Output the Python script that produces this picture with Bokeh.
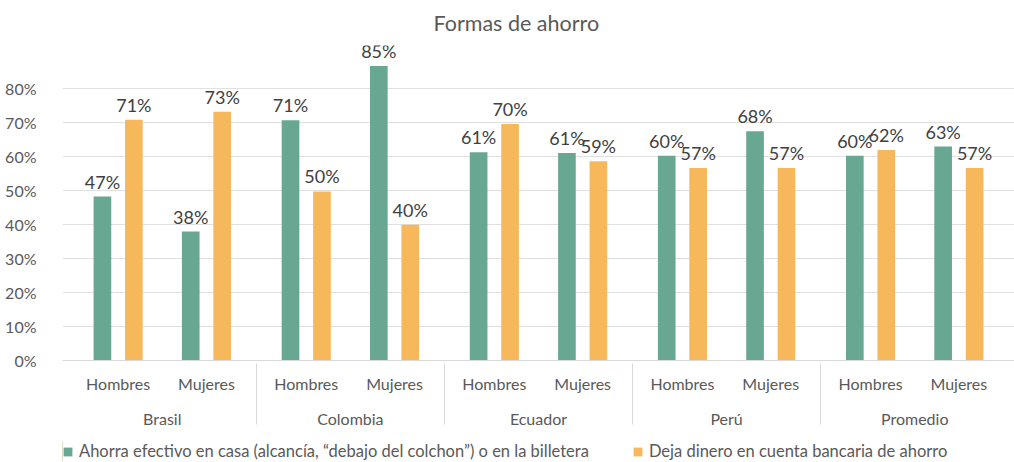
from bokeh.plotting import figure
from bokeh.layouts import column
from bokeh.models import (ColumnDataSource, FactorRange, Legend, LegendItem, PrintfTickFormatter,
                          FixedTicker, Range1d)
from bokeh.transform import dodge
from bokeh.core.properties import value
from bokeh.embed import file_html
from bokeh.resources import INLINE

title_text = "Formas de ahorro"
countries = ["Brasil", "Colombia", "Ecuador", "Perú", "Promedio"]
genders = ["Hombres", "Mujeres"]
series_names = ["Ahorra efectivo en casa (alcancía, “debajo del colchon”) o en la billetera",
                "Deja dinero en cuenta bancaria de ahorro"]
efectivo = [48.2, 37.9, 70.6, 86.6, 61.2, 61.0, 60.2, 67.4, 60.2, 62.9]
banco = [70.8, 73.1, 49.7, 39.9, 69.5, 58.6, 56.6, 56.6, 61.9, 56.6]
efectivo_labels = ["47%", "38%", "71%", "85%", "61%", "61%", "60%", "68%", "60%", "63%"]
banco_labels = ["71%", "73%", "50%", "40%", "70%", "59%", "57%", "57%", "62%", "57%"]
y_ticks = [0, 10, 20, 30, 40, 50, 60, 70, 80]

FONT = "Lato"
GREEN = "#68a893"
ORANGE = "#f7b85b"
TXT = "#595959"

x = [(c, g) for c in countries for g in genders]
src = ColumnDataSource(dict(x=x, ef=efectivo, bn=banco, efl=efectivo_labels, bnl=banco_labels))

xr = FactorRange(*x, factor_padding=0.0, group_padding=0.13, range_padding=0.13,
                 range_padding_units="absolute")
p = figure(x_range=xr, y_range=(0, 92.6), frame_width=952, frame_height=315,
           output_backend="svg", toolbar_location=None,
           min_border_left=62, min_border_right=0, min_border_top=45, min_border_bottom=81)

off = 0.178
w = 0.2
p.vbar(x=dodge("x", -off, range=p.x_range), top="ef", width=w, source=src,
       fill_color=GREEN, line_color=None)
p.vbar(x=dodge("x", off, range=p.x_range), top="bn", width=w, source=src,
       fill_color=ORANGE, line_color=None)
p.text(x=dodge("x", -off, range=p.x_range), y="ef", text="efl", source=src,
       text_align="center", text_baseline="bottom", y_offset=-4,
       text_font=value(FONT), text_font_size="18px", text_color="#404040")
p.text(x=dodge("x", off, range=p.x_range), y="bn", text="bnl", source=src,
       text_align="center", text_baseline="bottom", y_offset=-4,
       text_font=value(FONT), text_font_size="18px", text_color="#404040")

p.title.text = title_text
p.title.align = "left"
p.title.offset = 371
p.title.vertical_align = "top"
p.title.text_font = FONT
p.title.text_font_size = "21.5px"
p.title.text_font_style = "normal"
p.title.text_color = TXT
p.title.standoff = 16

p.outline_line_color = None
p.xgrid.grid_line_color = None
p.ygrid.grid_line_color = "#e0e0e0"
p.ygrid.grid_line_width = 1

p.yaxis.ticker = FixedTicker(ticks=y_ticks)
p.yaxis.formatter = PrintfTickFormatter(format="%d%%")
p.yaxis.axis_line_color = None
p.yaxis.major_tick_line_color = None
p.yaxis.minor_tick_line_color = None
p.yaxis.major_label_text_font = FONT
p.yaxis.major_label_text_font_size = "16px"
p.yaxis.major_label_text_color = TXT
p.yaxis.major_label_standoff = 20

p.xaxis.axis_line_color = "#d9d9d9"
p.xaxis.major_tick_line_color = None
p.xaxis.minor_tick_line_color = None
p.xaxis.major_tick_out = 0
p.xaxis.major_tick_in = 0
p.xaxis.minor_tick_out = 0
p.xaxis.minor_tick_in = 0
p.xaxis.major_label_text_font = FONT
p.xaxis.major_label_text_font_size = "16px"
p.xaxis.major_label_text_color = TXT
p.xaxis.major_label_standoff = 13
p.xaxis.group_text_font = FONT
p.xaxis.group_text_font_size = "16px"
p.xaxis.group_text_font_style = "normal"
p.xaxis.group_text_color = TXT
p.xaxis.separator_line_color = "#d9d9d9"
p.xaxis.separator_line_width = 1

# legend strip below the chart (swatch glyphs sit outside the strip's visible range)
p2 = figure(width=1014, height=20, x_range=Range1d(0, 1), y_range=Range1d(0, 1),
            output_backend="svg", toolbar_location=None,
            x_axis_location=None, y_axis_location=None,
            min_border_left=62, min_border_right=0, min_border_top=0, min_border_bottom=0)
p2.outline_line_color = None
p2.grid.visible = False
g1 = p2.vbar(x=[-5], top=[1], width=0.1, fill_color=GREEN, line_color=None)
g2 = p2.vbar(x=[-5], top=[1], width=0.1, fill_color=ORANGE, line_color=None)
legend = Legend(items=[LegendItem(label=series_names[0], renderers=[g1]),
                       LegendItem(label=series_names[1], renderers=[g2])],
                orientation="horizontal", location="top_left",
                padding=0, margin=0, spacing=43, label_standoff=6,
                glyph_width=11, glyph_height=11, label_height=20,
                label_text_font=FONT, label_text_font_size="16.5px",
                label_text_color=TXT, border_line_color=None, background_fill_alpha=0)
p2.add_layout(legend)

layout = column(p, p2, spacing=0)
open("out.html", "w").write(file_html(layout, INLINE))
